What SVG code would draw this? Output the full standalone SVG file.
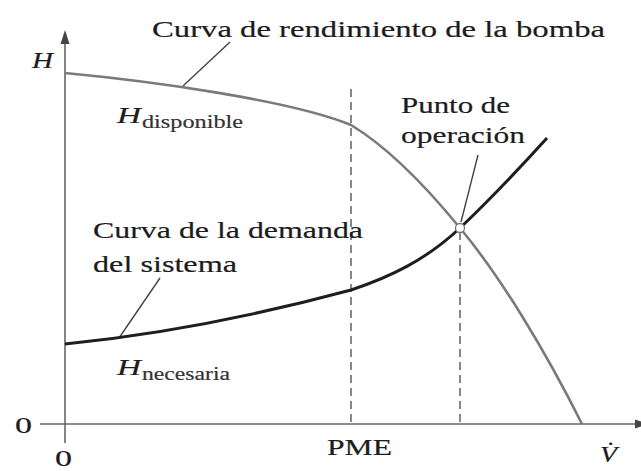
<svg xmlns="http://www.w3.org/2000/svg" width="641" height="471" viewBox="0 0 641 471">
<style>
text{font-family:"Liberation Serif","Times New Roman",serif;fill:#1c1c1c;stroke:#1c1c1c;stroke-width:0.2;font-size:24px}
.it{font-style:italic}
.sub{font-size:18px;fill:#333;stroke:#333}
.axis{stroke:#666;stroke-width:1.6;fill:none}
.dash{stroke:#555;stroke-width:1.4;stroke-dasharray:8,5;fill:none}
.pump{stroke:#7a7a7a;stroke-width:2.6;fill:none}
.sys{stroke:#1e1e1e;stroke-width:3;fill:none}
.lead{stroke:#444;stroke-width:1.4;fill:none}
</style>
<rect width="641" height="471" fill="#fff"/>
<g id="axes">
<line class="axis" x1="65" y1="42" x2="65" y2="443"/>
<polygon points="65,30 60.5,44 69.5,44" fill="#444"/>
<line class="axis" x1="40" y1="424" x2="638" y2="424"/>
<polygon points="648,424 635,419.5 635,428.5" fill="#444"/>
<text x="15" y="433" textLength="17" lengthAdjust="spacingAndGlyphs">0</text>
<text x="55" y="466" textLength="17" lengthAdjust="spacingAndGlyphs">0</text>
<text class="it" x="32" y="68" textLength="21" lengthAdjust="spacingAndGlyphs">H</text>
<text x="327" y="455" textLength="65" lengthAdjust="spacingAndGlyphs">PME</text>
<text class="it" x="600" y="462" textLength="17" lengthAdjust="spacingAndGlyphs">V̇</text>
</g>
<g id="guides">
<line class="dash" x1="351" y1="89" x2="351" y2="424"/>
<line class="dash" x1="460" y1="232" x2="460" y2="424"/>
</g>
<g id="connectors">
<line class="lead" x1="230" y1="42" x2="183" y2="86"/>
<line class="lead" x1="160" y1="278" x2="119" y2="338"/>
<line class="lead" x1="478" y1="155" x2="461" y2="222"/>
</g>
<g id="pump-curve">
<path class="pump" d="M65,73 C150,81 290,100 351,125 C387,146.6 424,184 460,228 C500,276 545,350 582,424"/>
<text x="152" y="37" textLength="453" lengthAdjust="spacingAndGlyphs">Curva de rendimiento de la bomba</text>
<text class="it" x="117" y="123" textLength="24" lengthAdjust="spacingAndGlyphs">H</text>
<text class="sub" x="142" y="128" textLength="101" lengthAdjust="spacingAndGlyphs">disponible</text>
</g>
<g id="system-curve">
<path class="sys" d="M65,344 C160,334.5 256,315.6 351,290 C390,277 426,260 460,228 C489,200.5 518,170 547,138"/>
<text x="93" y="238" textLength="270" lengthAdjust="spacingAndGlyphs">Curva de la demanda</text>
<text x="93" y="272" textLength="144" lengthAdjust="spacingAndGlyphs">del sistema</text>
<text class="it" x="117" y="375" textLength="24" lengthAdjust="spacingAndGlyphs">H</text>
<text class="sub" x="142" y="380" textLength="88" lengthAdjust="spacingAndGlyphs">necesaria</text>
</g>
<g id="operating-point">
<circle cx="460" cy="228" r="4.5" fill="#fff" stroke="#777" stroke-width="1.3"/>
<text x="401" y="113" textLength="109" lengthAdjust="spacingAndGlyphs">Punto de</text>
<text x="401" y="143" textLength="124" lengthAdjust="spacingAndGlyphs">operación</text>
</g>
</svg>
